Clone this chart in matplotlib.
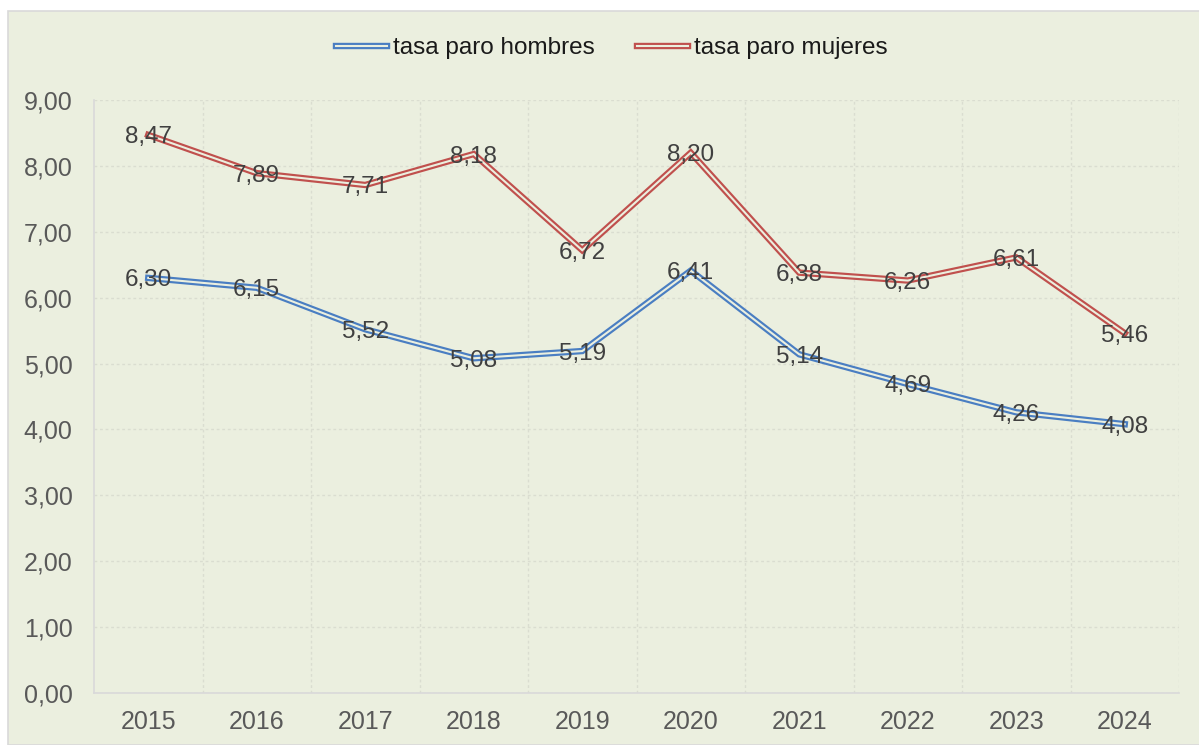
import matplotlib
matplotlib.use("Agg")
import matplotlib.pyplot as plt
import matplotlib.patheffects as pe
from matplotlib.patches import Rectangle
from matplotlib.ticker import FixedLocator, FuncFormatter

years = ["2015", "2016", "2017", "2018", "2019", "2020", "2021", "2022", "2023", "2024"]
hombres = [6.30, 6.15, 5.52, 5.08, 5.19, 6.41, 5.14, 4.69, 4.26, 4.08]
mujeres = [8.47, 7.89, 7.71, 8.18, 6.72, 8.20, 6.38, 6.26, 6.61, 5.46]
yticks = [0, 1, 2, 3, 4, 5, 6, 7, 8, 9]

BG = "#EBEFDF"
BLUE = "#4A7EC2"
RED = "#C0504D"
FONT = "Liberation Sans"

plt.rcParams["font.family"] = [FONT, "DejaVu Sans"]

W, H = 1199, 745
fig = plt.figure(figsize=(W / 100, H / 100), dpi=100)
fig.patch.set_facecolor("white")
fig.patches.append(Rectangle((8 / W, 0), 1.0, (H - 11) / H, transform=fig.transFigure,
                             facecolor=BG, edgecolor="#D9D9D9", linewidth=1.2, zorder=-5))

ax = fig.add_axes([94 / W, (H - 693) / H, (1179 - 94) / W, (693 - 100) / H])
ax.set_facecolor(BG)

x = list(range(len(years)))

def double(color):
    return [pe.Stroke(linewidth=4.6, foreground=color), pe.Normal()]

ax.plot(x, hombres, color=BG, linewidth=1.5, label="tasa paro hombres",
        path_effects=double(BLUE), solid_joinstyle="miter", zorder=3)
ax.plot(x, mujeres, color=BG, linewidth=1.5, label="tasa paro mujeres",
        path_effects=double(RED), solid_joinstyle="miter", zorder=3)

for xi, v in zip(x, hombres):
    ax.text(xi, v, f"{v:.2f}".replace(".", ","), ha="center", va="center_baseline",
            fontsize=17.5, color="#404040", zorder=4)
for xi, v in zip(x, mujeres):
    ax.text(xi, v, f"{v:.2f}".replace(".", ","), ha="center", va="center_baseline",
            fontsize=17.5, color="#404040", zorder=4)

ax.set_xlim(-0.5, len(years) - 0.5)
ax.set_ylim(0, 9)
ax.set_xticks(x)
ax.set_xticklabels(years)
ax.set_yticks(yticks)
ax.yaxis.set_major_formatter(FuncFormatter(lambda v, p: f"{v:.2f}".replace(".", ",")))
ax.xaxis.set_minor_locator(FixedLocator([i + 0.5 for i in range(len(years))]))
ax.tick_params(axis="both", which="both", length=0, labelsize=18, labelcolor="#595959")
ax.tick_params(axis="y", pad=15.5)
ax.tick_params(axis="x", pad=12.5)

ax.grid(True, axis="y", which="major", color="#DADDD0", linestyle=(0, (2, 2)), linewidth=1)
ax.grid(True, axis="x", which="minor", color="#DADDD0", linestyle=(0, (2, 2)), linewidth=1)
ax.set_axisbelow(True)

for s in ["top", "right"]:
    ax.spines[s].set_visible(False)
for s in ["left", "bottom"]:
    ax.spines[s].set_color("#D9D9D9")
    ax.spines[s].set_linewidth(1.2)

leg = fig.legend(loc="center", bbox_to_anchor=(612 / W, 1 - 48 / H), ncol=2,
                 frameon=False, fontsize=17.5, handlelength=2.1, handletextpad=0.25,
                 columnspacing=1.75, labelcolor="#1A1A1A")

fig.savefig("out.png", dpi=100, facecolor=fig.get_facecolor())
